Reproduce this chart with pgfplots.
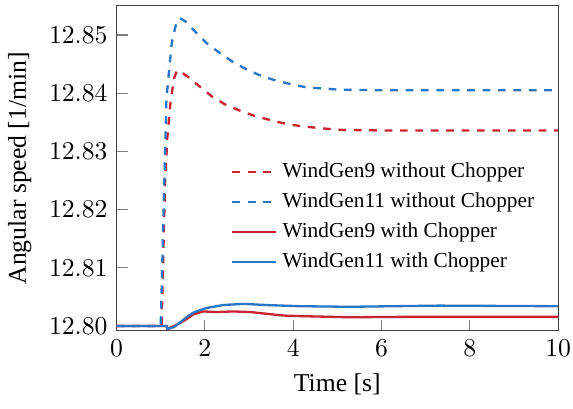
\documentclass[border=0pt]{standalone}
\usepackage{pgfplots}
\pgfplotsset{compat=1.18}
\usepackage{fontspec}
\setmainfont{Liberation Serif}

\definecolor{cred}{RGB}{200,36,48}
\definecolor{cblue}{RGB}{42,117,196}

\begin{document}
\begin{tikzpicture}
\begin{axis}[
   scale only axis,
   width=172pt, height=126.5pt,
   xmin=0, xmax=10,
   ymin=12.7992, ymax=12.855,
   xtick={0,2,4,6,8,10},
   ytick={12.80,12.81,12.82,12.83,12.84,12.85},
   yticklabel style={/pgf/number format/.cd,fixed,fixed zerofill,precision=2},
   tick align=inside,
   xtick pos=bottom, ytick pos=left,
   major tick style={gray, thin},
   axis line style={black!75},
   xlabel={Time [s]},
   ylabel={Angular speed [1/min]},
   legend style={draw=none, fill=none, at={(0.976,0.35)}, anchor=east,
                 font=\fontsize{8.3}{10}\selectfont, row sep=0.4pt},
   legend cell align=left,
   every axis plot/.append style={line width=0.9pt},
 ]
 % without chopper
 \addplot[cred, dashed] coordinates {
   (0,12.80) (1.02,12.80) (1.10,12.8250) (1.15,12.8323) (1.22,12.8383) (1.30,12.8425)
   (1.37,12.8439) (1.45,12.8437) (1.62,12.8428) (1.89,12.8411) (2.15,12.8395)
   (2.45,12.8381) (2.79,12.8370) (3.13,12.8361) (3.47,12.8354) (3.85,12.8347)
   (4.22,12.8343) (4.60,12.8340) (5.05,12.8337) (6,12.8336) (10,12.8336)};
 \addplot[cblue, dashed] coordinates {
   (0,12.80) (1.0,12.80) (1.13,12.8391) (1.25,12.8486) (1.35,12.8520) (1.43,12.8529)
   (1.55,12.8524) (1.74,12.8509) (2.04,12.8486) (2.34,12.8469) (2.63,12.8454)
   (2.94,12.8441) (3.24,12.8431) (3.55,12.8423) (3.92,12.8416) (4.30,12.8410)
   (4.67,12.8408) (5.05,12.8406) (6,12.8405) (10,12.8405)};
 % with chopper
 \addplot[cred] coordinates {
   (0,12.80) (1.13,12.80) (1.15,12.7995) (1.25,12.7998) (1.43,12.8005) (1.55,12.8010)
   (1.74,12.8020) (1.96,12.8025) (2.26,12.8024) (2.64,12.8025) (3.02,12.8024)
   (3.40,12.8021) (3.77,12.8018) (4.15,12.8017) (5.28,12.8015) (7,12.8016) (10,12.8016)};
 \addplot[cblue] coordinates {
   (0,12.80) (1.13,12.80) (1.15,12.7995) (1.30,12.7998) (1.47,12.8008) (1.60,12.8016)
   (1.74,12.8023) (2.04,12.8031) (2.41,12.8036) (2.87,12.8038) (3.40,12.8036)
   (4.15,12.8034) (5.28,12.8033) (7.3,12.8035) (10,12.8034)};
 \legend{WindGen9 without Chopper, WindGen11 without Chopper, WindGen9 with Chopper, WindGen11 with Chopper}
\end{axis}
\pgfresetboundingbox
\path[use as bounding box] ([shift={(-45.4pt,-30.4pt)}]current axis.south west)
   rectangle ([shift={(5.8pt,2.3pt)}]current axis.north east);
\end{tikzpicture}
\end{document}
